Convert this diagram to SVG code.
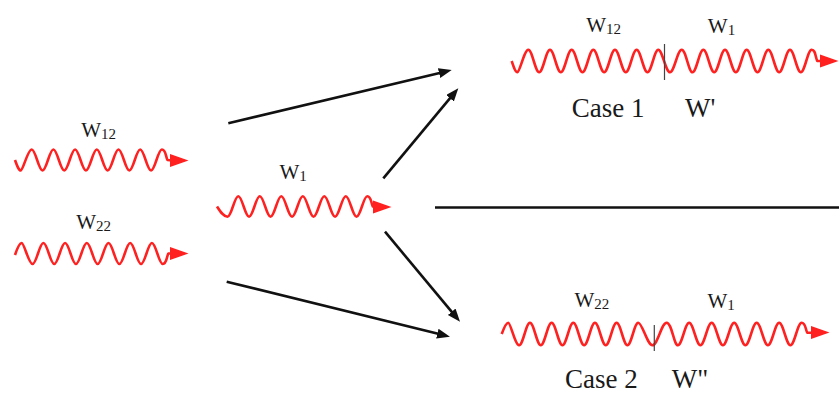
<svg xmlns="http://www.w3.org/2000/svg" xmlns:xlink="http://www.w3.org/1999/xlink" width="839" height="394" viewBox="0 0 839 394">
<style>
.wave{fill:none;stroke:#ff2020;stroke-width:2.6;stroke-linejoin:round}
.div{stroke:#444;stroke-width:1.2}
.conn{fill:none;stroke:#111;stroke-width:2.6}
.lbl{font-family:"Liberation Serif","Times New Roman",serif;font-size:21px;fill:#1a1a1a}
.sub{font-size:15px}
.case{font-family:"Liberation Serif","Times New Roman",serif;font-size:27px;fill:#1a1a1a}
</style>
<defs>
<path id="rh" d="M0,-6.5 L18.5,0 L0,6.5 Z" fill="#ff2020"/>
<marker id="ah" markerUnits="userSpaceOnUse" markerWidth="14" markerHeight="11" refX="5" refY="5" orient="auto">
<path d="M0,0 L13,5 L0,10 Z" fill="#111"/>
</marker>
</defs>
<rect width="839" height="394" fill="#fff"/>

<g id="w12-in">
<path class="wave" d="M15,160 c1.95,5.5 3.75,10.5 5.85,10.5 s6.94,-21 10.85,-21 s6.94,21 10.85,21 s6.94,-21 10.85,-21 s6.94,21 10.85,21 s6.94,-21 10.85,-21 s6.94,21 10.85,21 s6.94,-21 10.85,-21 s6.94,21 10.85,21 s6.94,-21 10.85,-21 s6.94,21 10.85,21 s6.94,-21 10.85,-21 s6.94,21 10.85,21 s6.94,-21 10.85,-21 s3.5,6 5.6,10.5 l4.5,0.5"/>
<use xlink:href="#rh" transform="translate(170,160.5)"/>
<text class="lbl" x="81.2" y="137">W<tspan class="sub" dy="2">12</tspan></text>
</g>

<g id="w22-in">
<path class="wave" d="M15,255 c2,-6 4.2,-12 6.7,-12 s6.94,21 10.85,21 s6.94,-21 10.85,-21 s6.94,21 10.85,21 s6.94,-21 10.85,-21 s6.94,21 10.85,21 s6.94,-21 10.85,-21 s6.94,21 10.85,21 s6.94,-21 10.85,-21 s6.94,21 10.85,21 s6.94,-21 10.85,-21 s6.94,21 10.85,21 s6.94,-21 10.85,-21 s6.94,21 10.85,21 s3.5,-6 5.6,-10.5 l4,0"/>
<use xlink:href="#rh" transform="translate(170,253.5)"/>
<text class="lbl" x="76.2" y="228.5">W<tspan class="sub" dy="2">22</tspan></text>
</g>

<g id="w1-mid">
<path class="wave" d="M217,206.5 c3.5,5.5 6.7,10.3 10.55,10.3 s6.88,-20.6 10.75,-20.6 s6.88,20.6 10.75,20.6 s6.88,-20.6 10.75,-20.6 s6.88,20.6 10.75,20.6 s6.88,-20.6 10.75,-20.6 s6.88,20.6 10.75,20.6 s6.88,-20.6 10.75,-20.6 s6.88,20.6 10.75,20.6 s6.88,-20.6 10.75,-20.6 s6.88,20.6 10.75,20.6 s6.88,-20.6 10.75,-20.6 s6.88,20.6 10.75,20.6 s6.88,-20.6 10.75,-20.6 s3.5,6 5.5,10.3 l2.5,0.5"/>
<use xlink:href="#rh" transform="translate(373,207)"/>
<text class="lbl" x="279.5" y="179">W<tspan class="sub" dy="2">1</tspan></text>
</g>

<g id="case1">
<path class="wave" d="M511.7,61 c1.95,5.9 3.7,11.3 5.8,11.3 s6.93,-22.6 10.83,-22.6 s6.93,22.6 10.83,22.6 s6.93,-22.6 10.83,-22.6 s6.93,22.6 10.83,22.6 s6.93,-22.6 10.83,-22.6 s6.93,22.6 10.83,22.6 s6.93,-22.6 10.83,-22.6 s6.93,22.6 10.83,22.6 s6.93,-22.6 10.83,-22.6 s6.93,22.6 10.83,22.6 s6.93,-22.6 10.83,-22.6 s6.93,22.6 10.83,22.6 s6.93,-22.6 10.83,-22.6 s7.5,22.6 11.7,22.6 s7.5,-22.6 11.7,-22.6 s6.93,22.6 10.83,22.6 s6.93,-22.6 10.83,-22.6 s6.93,22.6 10.83,22.6 s6.93,-22.6 10.83,-22.6 s6.93,22.6 10.83,22.6 s6.93,-22.6 10.83,-22.6 s6.93,22.6 10.83,22.6 s6.93,-22.6 10.83,-22.6 s6.93,22.6 10.83,22.6 s6.93,-22.6 10.83,-22.6 s6.93,22.6 10.83,22.6 s6.93,-22.6 10.83,-22.6 s3.5,6.5 5.6,11.3 l3,0"/>
<use xlink:href="#rh" transform="translate(820,61)"/>
<line class="div" x1="664.5" y1="44" x2="664.5" y2="80"/>
<text class="lbl" x="586.2" y="31.7">W<tspan class="sub" dy="2">12</tspan></text>
<text class="lbl" x="707.8" y="33">W<tspan class="sub" dy="2">1</tspan></text>
<text class="case" x="571.7" y="117">Case 1</text>
<text class="case" x="685" y="117">W'</text>
</g>

<g id="case2">
<path class="wave" d="M501.7,334 c2.2,-6 4.4,-11.3 6.6,-11.3 s6.93,22.6 10.83,22.6 s6.93,-22.6 10.83,-22.6 s6.93,22.6 10.83,22.6 s6.93,-22.6 10.83,-22.6 s6.93,22.6 10.83,22.6 s6.93,-22.6 10.83,-22.6 s6.93,22.6 10.83,22.6 s6.93,-22.6 10.83,-22.6 s6.93,22.6 10.83,22.6 s6.93,-22.6 10.83,-22.6 s6.93,22.6 10.83,22.6 s6.93,-22.6 10.83,-22.6 s9.09,22.6 14.2,22.6 s9.09,-22.6 14.2,-22.6 s7.2,22.6 11.25,22.6 s7.2,-22.6 11.25,-22.6 s7.2,22.6 11.25,22.6 s7.2,-22.6 11.25,-22.6 s7.2,22.6 11.25,22.6 s7.2,-22.6 11.25,-22.6 s7.2,22.6 11.25,22.6 s7.2,-22.6 11.25,-22.6 s7.2,22.6 11.25,22.6 s7.2,-22.6 11.25,-22.6 s7.2,22.6 11.25,22.6 s7.2,-22.6 11.25,-22.6 s3.5,6 5.6,10 l4,0"/>
<use xlink:href="#rh" transform="translate(811,332.5)"/>
<line class="div" x1="654.3" y1="325" x2="654.3" y2="351"/>
<text class="lbl" x="574.5" y="306.7">W<tspan class="sub" dy="2">22</tspan></text>
<text class="lbl" x="707.5" y="308.3">W<tspan class="sub" dy="2">1</tspan></text>
<text class="case" x="565" y="388">Case 2</text>
<text class="case" x="671.7" y="388">W"</text>
</g>

<g id="connectors">
<line class="conn" x1="228.3" y1="123.3" x2="443.9" y2="71.9" marker-end="url(#ah)"/>
<line class="conn" x1="383.3" y1="178.3" x2="453.2" y2="94.4" marker-end="url(#ah)"/>
<line class="conn" x1="385" y1="231.7" x2="454.9" y2="315.6" marker-end="url(#ah)"/>
<line class="conn" x1="226.7" y1="281.7" x2="442.2" y2="334.8" marker-end="url(#ah)"/>
<line class="conn" x1="435" y1="207.5" x2="839" y2="207.5"/>
</g>
</svg>
